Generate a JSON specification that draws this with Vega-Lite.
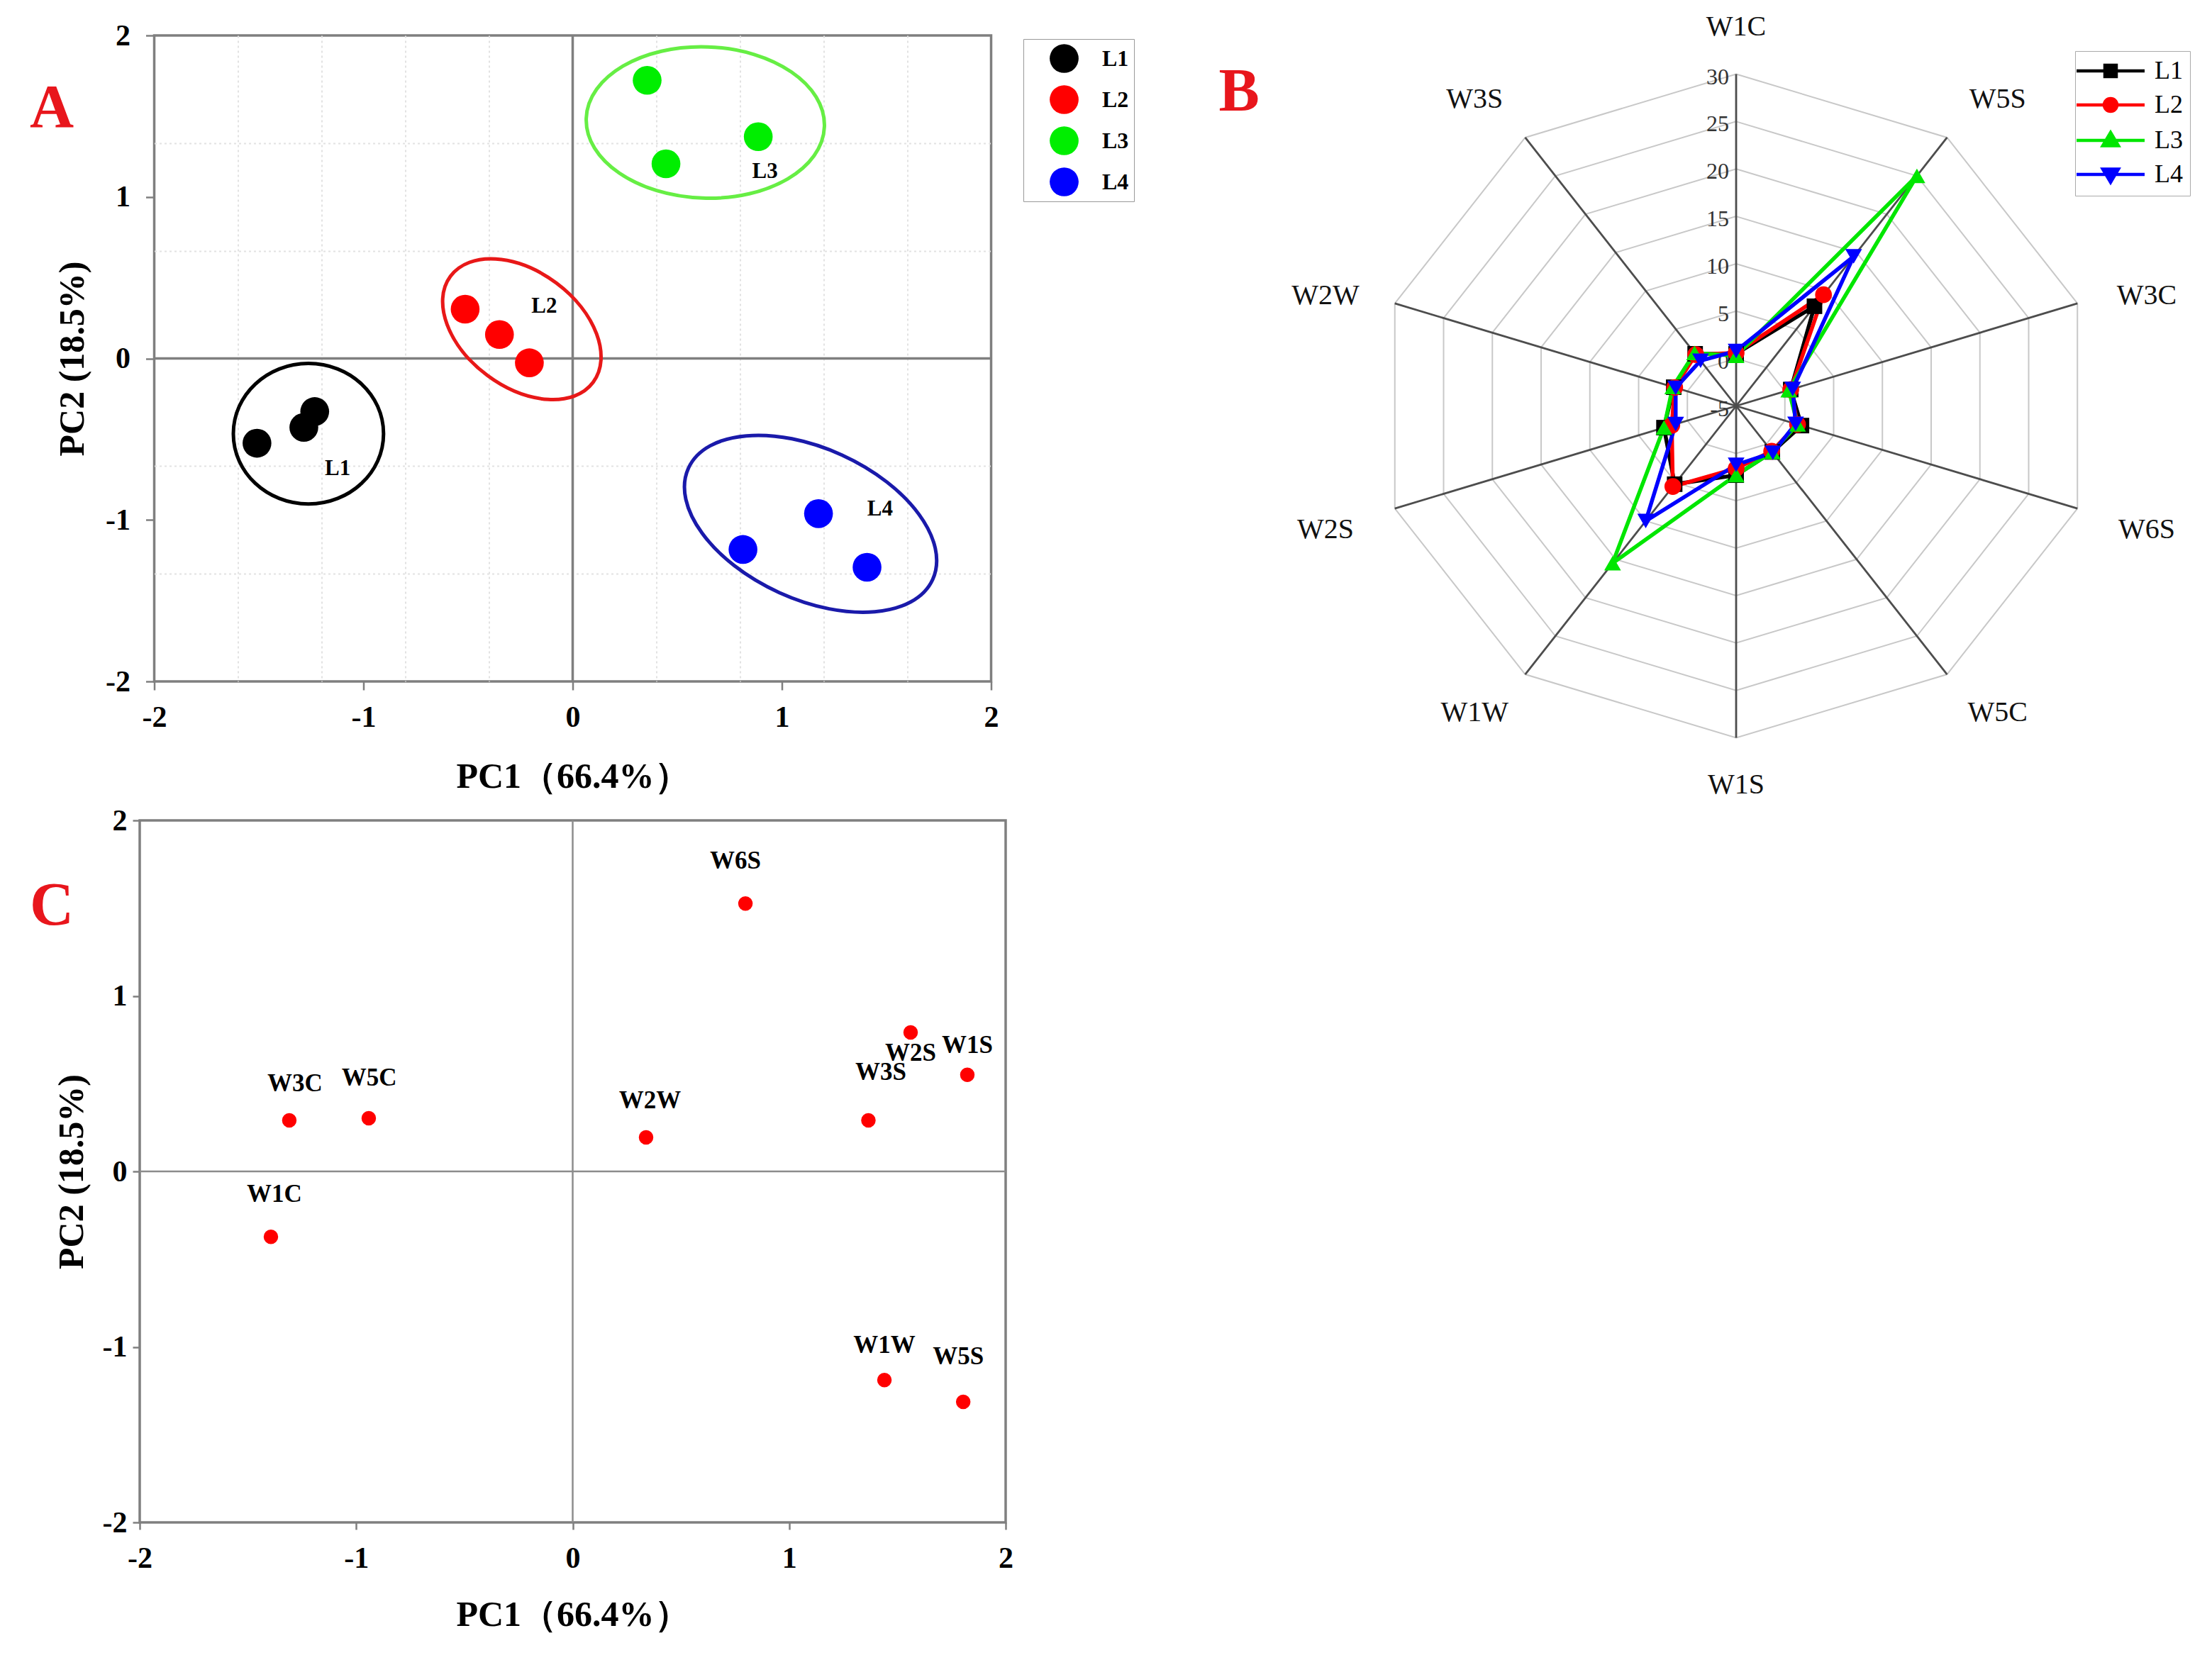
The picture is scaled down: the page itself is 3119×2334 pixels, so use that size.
{
  "$schema": "https://vega.github.io/schema/vega-lite/v6.json",
  "autosize": {"type": "none"},
  "padding": {"left": 197, "top": 50, "right": 2922, "bottom": 2284},
  "background": "white",
  "columns": 2,
  "align": "each",
  "center": {"row": false, "column": true},
  "bounds": "flush",
  "spacing": {"row": 62, "column": 524},
  "resolve": {
    "scale": {"color": "independent", "fill": "independent", "stroke": "independent", "shape": "independent"},
    "legend": {"color": "independent", "fill": "independent", "stroke": "independent", "shape": "independent"}
  },
  "config": {
    "font": "Liberation Serif",
    "view": {"stroke": null},
    "axis": {
      "labelFont": "Liberation Serif",
      "titleFont": "Liberation Serif",
      "labelFontWeight": "bold",
      "titleFontWeight": "bold",
      "labelColor": "#000000",
      "titleColor": "#000000",
      "tickColor": "#7f7f7f",
      "labelFlush": false,
      "labelOverlap": false,
      "domain": false
    },
    "legend": {"labelFont": "Liberation Serif"}
  },
  "datasets": {
    "scoresA": [
      {"group": "L1", "pc1": -1.509, "pc2": -0.525},
      {"group": "L1", "pc1": -1.285, "pc2": -0.427},
      {"group": "L1", "pc1": -1.233, "pc2": -0.329},
      {"group": "L2", "pc1": -0.514, "pc2": 0.305},
      {"group": "L2", "pc1": -0.35, "pc2": 0.148},
      {"group": "L2", "pc1": -0.207, "pc2": -0.027},
      {"group": "L3", "pc1": 0.356, "pc2": 1.722},
      {"group": "L3", "pc1": 0.446, "pc2": 1.205},
      {"group": "L3", "pc1": 0.887, "pc2": 1.373},
      {"group": "L4", "pc1": 0.814, "pc2": -1.183},
      {"group": "L4", "pc1": 1.175, "pc2": -0.961},
      {"group": "L4", "pc1": 1.407, "pc2": -1.293}
    ],
    "groupsA": [
      {"group": "L1", "cx": -1.263, "cy": -0.466, "lx": -1.123, "ly": -0.681},
      {"group": "L2", "cx": -0.243, "cy": 0.181, "lx": -0.136, "ly": 0.324},
      {"group": "L3", "cx": 0.634, "cy": 1.461, "lx": 0.919, "ly": 1.158},
      {"group": "L4", "cx": 1.137, "cy": -1.024, "lx": 1.469, "ly": -0.934}
    ],
    "loadings": [
      {"sensor": "W1C", "pc1": -1.394, "pc2": -0.373, "lx": -1.378, "ly": -0.131},
      {"sensor": "W3C", "pc1": -1.309, "pc2": 0.291, "lx": -1.283, "ly": 0.501},
      {"sensor": "W5C", "pc1": -0.942, "pc2": 0.303, "lx": -0.94, "ly": 0.533},
      {"sensor": "W2W", "pc1": 0.339, "pc2": 0.194, "lx": 0.357, "ly": 0.404},
      {"sensor": "W6S", "pc1": 0.798, "pc2": 1.526, "lx": 0.752, "ly": 1.768},
      {"sensor": "W3S", "pc1": 1.366, "pc2": 0.291, "lx": 1.423, "ly": 0.566},
      {"sensor": "W2S", "pc1": 1.561, "pc2": 0.792, "lx": 1.561, "ly": 0.675},
      {"sensor": "W1S", "pc1": 1.823, "pc2": 0.551, "lx": 1.823, "ly": 0.719},
      {"sensor": "W1W", "pc1": 1.44, "pc2": -1.189, "lx": 1.44, "ly": -0.988},
      {"sensor": "W5S", "pc1": 1.804, "pc2": -1.313, "lx": 1.781, "ly": -1.055}
    ],
    "sensors": [
      {"sensor": "W1C", "k": 0}, {"sensor": "W5S", "k": 1}, {"sensor": "W3C", "k": 2},
      {"sensor": "W6S", "k": 3}, {"sensor": "W5C", "k": 4}, {"sensor": "W1S", "k": 5},
      {"sensor": "W1W", "k": 6}, {"sensor": "W2S", "k": 7}, {"sensor": "W2W", "k": 8},
      {"sensor": "W3S", "k": 9}
    ],
    "rings": [
      {"level": -5, "k": [0, 1, 2, 3, 4, 5, 6, 7, 8, 9]},
      {"level": 0, "k": [0, 1, 2, 3, 4, 5, 6, 7, 8, 9]},
      {"level": 5, "k": [0, 1, 2, 3, 4, 5, 6, 7, 8, 9]},
      {"level": 10, "k": [0, 1, 2, 3, 4, 5, 6, 7, 8, 9]},
      {"level": 15, "k": [0, 1, 2, 3, 4, 5, 6, 7, 8, 9]},
      {"level": 20, "k": [0, 1, 2, 3, 4, 5, 6, 7, 8, 9]},
      {"level": 25, "k": [0, 1, 2, 3, 4, 5, 6, 7, 8, 9]},
      {"level": 30, "k": [0, 1, 2, 3, 4, 5, 6, 7, 8, 9]}
    ],
    "radar": [
      {"series": "L1", "sensor": "W1C", "k": 0, "v": 0.5},
      {"series": "L1", "sensor": "W5S", "k": 1, "v": 8.0},
      {"series": "L1", "sensor": "W3C", "k": 2, "v": 0.6},
      {"series": "L1", "sensor": "W6S", "k": 3, "v": 1.7},
      {"series": "L1", "sensor": "W5C", "k": 4, "v": 1.0},
      {"series": "L1", "sensor": "W1S", "k": 5, "v": 2.3},
      {"series": "L1", "sensor": "W1W", "k": 6, "v": 5.2},
      {"series": "L1", "sensor": "W2S", "k": 7, "v": 2.4},
      {"series": "L1", "sensor": "W2W", "k": 8, "v": 1.4},
      {"series": "L1", "sensor": "W3S", "k": 9, "v": 1.8},
      {"series": "L2", "sensor": "W1C", "k": 0, "v": 0.6},
      {"series": "L2", "sensor": "W5S", "k": 1, "v": 9.5},
      {"series": "L2", "sensor": "W3C", "k": 2, "v": 0.6},
      {"series": "L2", "sensor": "W6S", "k": 3, "v": 1.3},
      {"series": "L2", "sensor": "W5C", "k": 4, "v": 0.9},
      {"series": "L2", "sensor": "W1S", "k": 5, "v": 1.6},
      {"series": "L2", "sensor": "W1W", "k": 6, "v": 5.5},
      {"series": "L2", "sensor": "W2S", "k": 7, "v": 1.6},
      {"series": "L2", "sensor": "W2W", "k": 8, "v": 1.3},
      {"series": "L2", "sensor": "W3S", "k": 9, "v": 1.7},
      {"series": "L3", "sensor": "W1C", "k": 0, "v": 0.3},
      {"series": "L3", "sensor": "W5S", "k": 1, "v": 25.0},
      {"series": "L3", "sensor": "W3C", "k": 2, "v": 0.4},
      {"series": "L3", "sensor": "W6S", "k": 3, "v": 1.3},
      {"series": "L3", "sensor": "W5C", "k": 4, "v": 1.0},
      {"series": "L3", "sensor": "W1S", "k": 5, "v": 2.3},
      {"series": "L3", "sensor": "W1W", "k": 6, "v": 15.5},
      {"series": "L3", "sensor": "W2S", "k": 7, "v": 2.4},
      {"series": "L3", "sensor": "W2W", "k": 8, "v": 1.5},
      {"series": "L3", "sensor": "W3S", "k": 9, "v": 1.9},
      {"series": "L4", "sensor": "W1C", "k": 0, "v": 0.8},
      {"series": "L4", "sensor": "W5S", "k": 1, "v": 14.5},
      {"series": "L4", "sensor": "W3C", "k": 2, "v": 0.8},
      {"series": "L4", "sensor": "W6S", "k": 3, "v": 1.1},
      {"series": "L4", "sensor": "W5C", "k": 4, "v": 1.1},
      {"series": "L4", "sensor": "W1S", "k": 5, "v": 1.2},
      {"series": "L4", "sensor": "W1W", "k": 6, "v": 10.0},
      {"series": "L4", "sensor": "W2S", "k": 7, "v": 1.2},
      {"series": "L4", "sensor": "W2W", "k": 8, "v": 1.2},
      {"series": "L4", "sensor": "W3S", "k": 9, "v": 0.9}
    ]
  },
  "concat": [
    {
      "width": 1180,
      "height": 911,
      "view": {"stroke": "#7f7f7f", "strokeWidth": 3.5},
      "layer": [
        {
          "data": {"values": [{}]},
          "mark": {"type": "rule", "color": "#7f7f7f", "strokeWidth": 3.5},
          "encoding": {"x": {"datum": 0, "type": "quantitative"}}
        },
        {
          "data": {"values": [{}]},
          "mark": {"type": "rule", "color": "#7f7f7f", "strokeWidth": 3.5},
          "encoding": {"y": {"datum": 0, "type": "quantitative"}}
        },
        {
          "data": {"name": "groupsA"},
          "mark": {"type": "point", "filled": false, "size": 40000, "strokeWidth": 5, "opacity": 1},
          "encoding": {
            "x": {"field": "cx", "type": "quantitative"},
            "y": {"field": "cy", "type": "quantitative"},
            "shape": {
              "field": "group", "type": "nominal", "legend": null,
              "scale": {
                "range": [
                  "M1.059,0C1.059,0.547,0.585,0.991,0,0.991C-0.585,0.991,-1.059,0.547,-1.059,0C-1.059,-0.547,-0.585,-0.991,0,-0.991C0.585,-0.991,1.059,-0.547,1.059,0Z",
                  "M1.006,0.747C0.738,1.108,0.071,1.065,-0.485,0.653C-1.040,0.240,-1.274,-0.387,-1.006,-0.747C-0.738,-1.108,-0.071,-1.065,0.485,-0.653C1.040,-0.240,1.274,0.387,1.006,0.747Z",
                  "M1.679,0.059C1.658,0.648,0.890,1.099,-0.037,1.066C-0.965,1.034,-1.700,0.530,-1.679,-0.059C-1.658,-0.648,-0.890,-1.099,0.037,-1.066C0.965,-1.034,1.700,-0.530,1.679,0.059Z",
                  "M1.722,0.785C1.478,1.320,0.509,1.403,-0.442,0.970C-1.393,0.537,-1.966,-0.249,-1.722,-0.785C-1.478,-1.320,-0.509,-1.403,0.442,-0.970C1.393,-0.537,1.966,0.249,1.722,0.785Z"
                ]
              }
            },
            "stroke": {
              "field": "group", "type": "nominal", "legend": null,
              "scale": {"range": ["#000000", "#e81818", "#66ee44", "#1a1aaa"]}
            }
          }
        },
        {
          "data": {"name": "scoresA"},
          "mark": {"type": "point", "filled": true, "opacity": 1, "size": 1650},
          "encoding": {
            "x": {
              "field": "pc1", "type": "quantitative",
              "scale": {"domain": [-2, 2], "nice": false, "zero": false},
              "axis": {
                "values": [-2, -1.6, -1.2, -1, -0.8, -0.4, 0, 0.4, 0.8, 1, 1.2, 1.6, 2],
                "labelExpr": "abs(datum.value % 1) < 1e-6 ? toString(datum.value) : ''",
                "grid": true, "gridColor": "#e2e2e2", "gridDash": [3, 4], "gridWidth": 2,
                "gridOpacity": {"condition": {"test": "abs(datum.value % 1) < 1e-6", "value": 0}, "value": 1},
                "tickOpacity": {"condition": {"test": "abs(datum.value % 1) < 1e-6", "value": 1}, "value": 0},
                "ticks": true, "tickSize": 12, "tickWidth": 2.5,
                "labelFontSize": 42, "labelPadding": 18,
                "title": "PC1（66.4%）", "titleFontSize": 50, "titlePadding": 38
              }
            },
            "y": {
              "field": "pc2", "type": "quantitative",
              "scale": {"domain": [-2, 2], "nice": false, "zero": false},
              "axis": {
                "values": [-2, -1.3333333, -1, -0.6666667, 0, 0.6666667, 1, 1.3333333, 2],
                "labelExpr": "abs(datum.value % 1) < 1e-6 ? toString(datum.value) : ''",
                "grid": true, "gridColor": "#e2e2e2", "gridDash": [3, 4], "gridWidth": 2,
                "gridOpacity": {"condition": {"test": "abs(datum.value % 1) < 1e-6", "value": 0}, "value": 1},
                "tickOpacity": {"condition": {"test": "abs(datum.value % 1) < 1e-6", "value": 1}, "value": 0},
                "ticks": true, "tickSize": 12, "tickWidth": 2.5,
                "labelFontSize": 42, "labelPadding": 22,
                "title": "PC2 (18.5%)", "titleFontSize": 50, "titlePadding": 21
              }
            },
            "color": {
              "field": "group", "type": "nominal",
              "scale": {"domain": ["L1", "L2", "L3", "L4"], "range": ["#000000", "#ff0000", "#00ee00", "#0000ff"]},
              "legend": {
                "orient": "none", "legendX": 1225.5, "legendY": 5, "title": null,
                "symbolType": "circle", "symbolSize": 1660, "symbolStrokeWidth": 0,
                "labelFontSize": 32, "labelFontWeight": "bold", "labelColor": "#000000",
                "padding": 7, "symbolOffset": 30, "labelOffset": 33, "rowPadding": 17,
                "strokeColor": "#999999"
              }
            }
          }
        },
        {
          "data": {"name": "groupsA"},
          "mark": {"type": "text", "fontSize": 31, "fontWeight": "bold", "align": "center", "baseline": "middle", "color": "#000000"},
          "encoding": {
            "x": {"field": "lx", "type": "quantitative"},
            "y": {"field": "ly", "type": "quantitative"},
            "text": {"field": "group"}
          }
        },
        {
          "data": {"values": [{}]},
          "mark": {"type": "text", "text": "A", "fontSize": 86, "fontWeight": "bold", "color": "#e8161c", "align": "center", "baseline": "middle"},
          "encoding": {
            "x": {"datum": -2.49, "type": "quantitative"},
            "y": {"datum": 1.548, "type": "quantitative"}
          }
        }
      ]
    },
    {
      "width": 1012,
      "height": 1045,
      "layer": [
        {
          "data": {"name": "rings"},
          "transform": [
            {"flatten": ["k"]},
            {"calculate": "(90 - 36 * datum.k) * PI / 180", "as": "ang"},
            {"calculate": "(datum.level + 5) * cos(datum.ang)", "as": "rx"},
            {"calculate": "(datum.level + 5) * sin(datum.ang)", "as": "ry"}
          ],
          "mark": {"type": "line", "interpolate": "linear-closed", "color": "#c8c8c8", "strokeWidth": 2},
          "encoding": {
            "x": {"field": "rx", "type": "quantitative", "scale": {"domain": [-35, 35], "nice": false, "zero": false}, "axis": null},
            "y": {"field": "ry", "type": "quantitative", "scale": {"domain": [-39.08, 39.08], "nice": false, "zero": false}, "axis": null},
            "detail": {"field": "level", "type": "nominal"},
            "order": {"field": "k", "type": "quantitative"}
          }
        },
        {
          "data": {"name": "sensors"},
          "transform": [
            {"calculate": "(90 - 36 * datum.k) * PI / 180", "as": "ang"},
            {"calculate": "35 * cos(datum.ang)", "as": "ex"},
            {"calculate": "35 * sin(datum.ang)", "as": "ey"},
            {"calculate": "0", "as": "zero"}
          ],
          "mark": {"type": "rule", "color": "#4d4d4d", "strokeWidth": 2.8},
          "encoding": {
            "x": {"field": "ex", "type": "quantitative", "axis": null},
            "y": {"field": "ey", "type": "quantitative", "axis": null},
            "x2": {"field": "zero"},
            "y2": {"field": "zero"}
          }
        },
        {
          "data": {"name": "rings"},
          "transform": [
            {"calculate": "datum.level + 5", "as": "r"},
            {"calculate": "0", "as": "zero"},
            {"calculate": "toString(datum.level)", "as": "lab"}
          ],
          "mark": {"type": "text", "align": "right", "baseline": "middle", "dx": -10, "dy": 4, "fontSize": 32, "color": "#333333"},
          "encoding": {
            "x": {"field": "zero", "type": "quantitative", "axis": null},
            "y": {"field": "r", "type": "quantitative", "axis": null},
            "text": {"field": "lab"}
          }
        },
        {
          "data": {"name": "sensors"},
          "transform": [
            {"calculate": "(90 - 36 * datum.k) * PI / 180", "as": "ang"},
            {"calculate": "40 * cos(datum.ang) + (abs(cos(datum.ang)) > 0.1 ? (cos(datum.ang) > 0 ? 2 : -2) : 0)", "as": "lx"},
            {"calculate": "40 * sin(datum.ang) - (abs(cos(datum.ang)) > 0.9 ? 0.7 : 0)", "as": "ly"}
          ],
          "mark": {"type": "text", "align": "center", "baseline": "middle", "fontSize": 40, "color": "#111111"},
          "encoding": {
            "x": {"field": "lx", "type": "quantitative", "axis": null},
            "y": {"field": "ly", "type": "quantitative", "axis": null},
            "text": {"field": "sensor"}
          }
        },
        {
          "data": {"name": "radar"},
          "transform": [
            {"calculate": "(90 - 36 * datum.k) * PI / 180", "as": "ang"},
            {"calculate": "(datum.v + 5) * cos(datum.ang)", "as": "px"},
            {"calculate": "(datum.v + 5) * sin(datum.ang)", "as": "py"}
          ],
          "mark": {"type": "line", "interpolate": "linear-closed", "strokeWidth": 5.5},
          "encoding": {
            "x": {"field": "px", "type": "quantitative", "axis": null},
            "y": {"field": "py", "type": "quantitative", "axis": null},
            "color": {
              "field": "series", "type": "nominal", "legend": null,
              "scale": {"range": ["#000000", "#ff0000", "#00e600", "#0000ff"]}
            },
            "order": {"field": "k", "type": "quantitative"}
          }
        },
        {
          "data": {"name": "radar"},
          "transform": [
            {"filter": "datum.series === 'L1'"},
            {"calculate": "(90 - 36 * datum.k) * PI / 180", "as": "ang"},
            {"calculate": "(datum.v + 5) * cos(datum.ang)", "as": "px"},
            {"calculate": "(datum.v + 5) * sin(datum.ang)", "as": "py"}
          ],
          "mark": {"type": "point", "shape": "square", "filled": true, "opacity": 1, "size": 480},
          "encoding": {
            "x": {"field": "px", "type": "quantitative", "axis": null},
            "y": {"field": "py", "type": "quantitative", "axis": null},
            "color": {"field": "series", "type": "nominal", "legend": null}
          }
        },
        {
          "data": {"name": "radar"},
          "transform": [
            {"filter": "datum.series === 'L2'"},
            {"calculate": "(90 - 36 * datum.k) * PI / 180", "as": "ang"},
            {"calculate": "(datum.v + 5) * cos(datum.ang)", "as": "px"},
            {"calculate": "(datum.v + 5) * sin(datum.ang)", "as": "py"}
          ],
          "mark": {"type": "point", "shape": "circle", "filled": true, "opacity": 1, "size": 560},
          "encoding": {
            "x": {"field": "px", "type": "quantitative", "axis": null},
            "y": {"field": "py", "type": "quantitative", "axis": null},
            "color": {"field": "series", "type": "nominal", "legend": null}
          }
        },
        {
          "data": {"name": "radar"},
          "transform": [
            {"filter": "datum.series === 'L3'"},
            {"calculate": "(90 - 36 * datum.k) * PI / 180", "as": "ang"},
            {"calculate": "(datum.v + 5) * cos(datum.ang)", "as": "px"},
            {"calculate": "(datum.v + 5) * sin(datum.ang)", "as": "py"}
          ],
          "mark": {"type": "point", "shape": "triangle-up", "filled": true, "opacity": 1, "size": 560},
          "encoding": {
            "x": {"field": "px", "type": "quantitative", "axis": null},
            "y": {"field": "py", "type": "quantitative", "axis": null},
            "color": {"field": "series", "type": "nominal", "legend": null}
          }
        },
        {
          "data": {"name": "radar"},
          "transform": [
            {"filter": "datum.series === 'L4'"},
            {"calculate": "(90 - 36 * datum.k) * PI / 180", "as": "ang"},
            {"calculate": "(datum.v + 5) * cos(datum.ang)", "as": "px"},
            {"calculate": "(datum.v + 5) * sin(datum.ang)", "as": "py"}
          ],
          "mark": {"type": "point", "shape": "triangle-down", "filled": true, "opacity": 1, "size": 560},
          "encoding": {
            "x": {"field": "px", "type": "quantitative", "axis": null},
            "y": {"field": "py", "type": "quantitative", "axis": null},
            "color": {"field": "series", "type": "nominal", "legend": null}
          }
        },
        {
          "data": {"name": "radar"},
          "transform": [{"filter": "datum.k === 0"}, {"calculate": "0", "as": "zero"}],
          "mark": {"type": "point", "filled": true, "opacity": 0},
          "encoding": {
            "x": {"field": "zero", "type": "quantitative", "axis": null},
            "y": {"field": "zero", "type": "quantitative", "axis": null},
            "shape": {
              "field": "series", "type": "nominal",
              "scale": {
                "domain": ["L1", "L2", "L3", "L4"],
                "range": [
                  "M-4.8,0H4.8M-0.8,-0.8H0.8V0.8H-0.8Z",
                  "M-4.8,0H4.8M0.9,0C0.9,0.497,0.497,0.9,0,0.9C-0.497,0.9,-0.9,0.497,-0.9,0C-0.9,-0.497,-0.497,-0.9,0,-0.9C0.497,-0.9,0.9,-0.497,0.9,0Z",
                  "M-4.8,0H4.8M0,-1.1L1.1,0.75H-1.1Z",
                  "M-4.8,0H4.8M0,1.1L1.1,-0.75H-1.1Z"
                ]
              },
              "legend": {
                "orient": "none", "legendX": 984, "legendY": 22, "title": null,
                "symbolSize": 400, "symbolStrokeWidth": 4.5, "symbolOpacity": 1,
                "labelFontSize": 36, "labelColor": "#000000", "labelFontWeight": "normal",
                "padding": 10, "symbolOffset": 22, "labelOffset": 44, "rowPadding": 12,
                "strokeColor": "#aaaaaa"
              }
            },
            "fill": {
              "field": "series", "type": "nominal",
              "scale": {"domain": ["L1", "L2", "L3", "L4"], "range": ["#000000", "#ff0000", "#00e600", "#0000ff"]}
            },
            "stroke": {
              "field": "series", "type": "nominal",
              "scale": {"domain": ["L1", "L2", "L3", "L4"], "range": ["#000000", "#ff0000", "#00e600", "#0000ff"]}
            }
          }
        },
        {
          "data": {"values": [{}]},
          "mark": {"type": "text", "text": "B", "fontSize": 86, "fontWeight": "bold", "color": "#e8161c", "align": "center", "baseline": "middle"},
          "encoding": {
            "x": {"datum": -48.48, "type": "quantitative", "axis": null},
            "y": {"datum": 33.1, "type": "quantitative", "axis": null}
          }
        }
      ]
    },
    {
      "width": 1221,
      "height": 990,
      "view": {"stroke": "#7f7f7f", "strokeWidth": 3.5},
      "layer": [
        {
          "data": {"values": [{}]},
          "mark": {"type": "rule", "color": "#8c8c8c", "strokeWidth": 2.5},
          "encoding": {"x": {"datum": 0, "type": "quantitative"}}
        },
        {
          "data": {"values": [{}]},
          "mark": {"type": "rule", "color": "#8c8c8c", "strokeWidth": 2.5},
          "encoding": {"y": {"datum": 0, "type": "quantitative"}}
        },
        {
          "data": {"name": "loadings"},
          "mark": {"type": "point", "filled": true, "opacity": 1, "size": 420, "color": "#ff0000"},
          "encoding": {
            "x": {
              "field": "pc1", "type": "quantitative",
              "scale": {"domain": [-2, 2], "nice": false, "zero": false},
              "axis": {
                "values": [-2, -1, 0, 1, 2],
                "labelExpr": "toString(datum.value)",
                "grid": false, "ticks": true, "tickSize": 10, "tickWidth": 2.5,
                "labelFontSize": 42, "labelPadding": 20,
                "title": "PC1（66.4%）", "titleFontSize": 50, "titlePadding": 34
              }
            },
            "y": {
              "field": "pc2", "type": "quantitative",
              "scale": {"domain": [-2, 2], "nice": false, "zero": false},
              "axis": {
                "values": [-2, -1, 0, 1, 2],
                "labelExpr": "toString(datum.value)",
                "grid": false, "ticks": true, "tickSize": 10, "tickWidth": 2.5,
                "labelFontSize": 42, "labelPadding": 8,
                "title": "PC2 (18.5%)", "titleFontSize": 50, "titlePadding": 18
              }
            }
          }
        },
        {
          "data": {"name": "loadings"},
          "mark": {"type": "text", "fontSize": 35, "fontWeight": "bold", "align": "center", "baseline": "middle", "color": "#000000"},
          "encoding": {
            "x": {"field": "lx", "type": "quantitative"},
            "y": {"field": "ly", "type": "quantitative"},
            "text": {"field": "sensor"}
          }
        },
        {
          "data": {"values": [{}]},
          "mark": {"type": "text", "text": "C", "fontSize": 86, "fontWeight": "bold", "color": "#e8161c", "align": "center", "baseline": "middle"},
          "encoding": {
            "x": {"datum": -2.406, "type": "quantitative"},
            "y": {"datum": 1.511, "type": "quantitative"}
          }
        }
      ]
    }
  ]
}
